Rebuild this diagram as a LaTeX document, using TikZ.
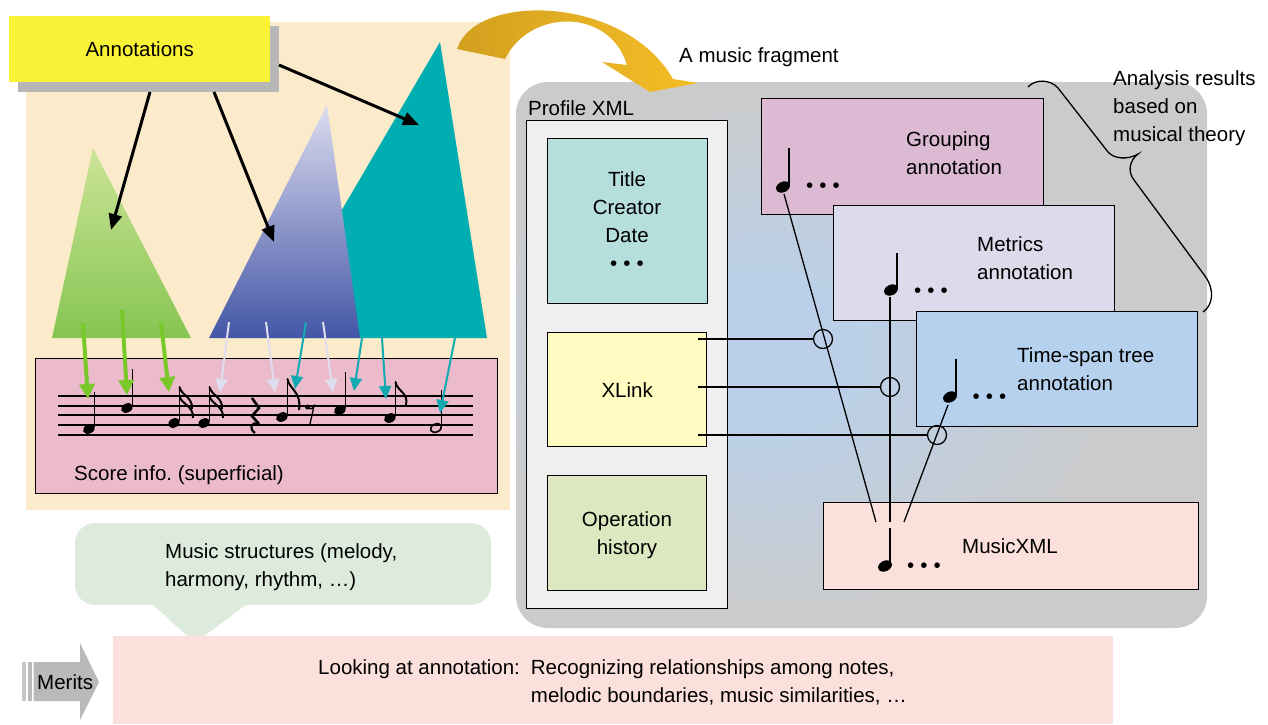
\documentclass[tikz,border=0pt]{standalone}
\usepackage{fontspec}
\setmainfont{Liberation Sans}
\usetikzlibrary{arrows.meta,shapes.geometric}
\definecolor{beige}{HTML}{FCEBCB}
\definecolor{annyellow}{HTML}{F9F237}
\definecolor{shadowgray}{HTML}{B7B7B7}
\definecolor{tealtri}{HTML}{00ADB1}
\definecolor{lavtop}{HTML}{DCDCEF}
\definecolor{bluebot}{HTML}{4356A6}
\definecolor{greentop}{HTML}{CBE497}
\definecolor{greenbot}{HTML}{86C552}
\definecolor{scorepink}{HTML}{ECBBCB}
\definecolor{greenarrow}{HTML}{78C82A}
\definecolor{lavarrow}{HTML}{DEDEF0}
\definecolor{tealarrow}{HTML}{13A9B1}
\definecolor{golddark}{HTML}{D2A01F}
\definecolor{goldlight}{HTML}{F5BE27}
\definecolor{bggray}{HTML}{CBCBCB}
\definecolor{bgblue}{HTML}{BBD0E8}
\definecolor{profwhite}{HTML}{EFEFEF}
\definecolor{titlec}{HTML}{B5DEDC}
\definecolor{xlinkc}{HTML}{FFFBC1}
\definecolor{opc}{HTML}{DDE8C1}
\definecolor{groupc}{HTML}{DCBAD3}
\definecolor{metricc}{HTML}{DCDBEB}
\definecolor{tsc}{HTML}{B6D1EE}
\definecolor{mxmlc}{HTML}{FCE0DC}
\definecolor{bubblec}{HTML}{DDEBDD}
\definecolor{meritpink}{HTML}{FCE0DC}
\definecolor{meritgray}{HTML}{B9B9B9}
\pgfdeclareradialshading{bgshade}{\pgfpoint{-9bp}{0bp}}{color(0bp)=(bgblue);color(7bp)=(bgblue);color(24bp)=(bggray);color(50bp)=(bggray)}
\newcommand\threedots{•\hspace{6pt}•\hspace{6pt}•}
\frenchspacing
\begin{document}
\frenchspacing
\begin{tikzpicture}[x=1pt,y=-1pt,
  txt/.style={inner sep=0pt, font=\fontsize{20.5}{28}\selectfont},
  box/.style={draw=black, line width=1.4pt, inner sep=0pt, anchor=north west},
  nhead/.style={ellipse, fill=black, inner sep=0pt, minimum width=12.5pt, minimum height=9pt, rotate=25},
  bighead/.style={ellipse, fill=black, inner sep=0pt, minimum width=14.5pt, minimum height=10.5pt, rotate=25},
  stem/.style={line width=1.8pt},
  staffline/.style={line width=1.8pt},
  blackarrow/.style={line width=3pt, -{Triangle[length=16pt,width=13pt]}},
  greenarr/.style={line width=4pt, greenarrow, -{Triangle[length=15pt,width=15pt]}},
  lavarr/.style={line width=2pt, lavarrow, -{Triangle[length=13pt,width=12pt]}},
  tealarr/.style={line width=2pt, tealarrow, -{Triangle[length=13pt,width=12pt]}},
  link/.style={line width=1.3pt},
  ring/.style={circle, draw, line width=1.3pt, minimum size=19pt, inner sep=0pt},
  dotrow/.style={inner sep=0pt, font=\fontsize{20.5}{28}\selectfont, anchor=base},
]
\useasboundingbox (0,0) rectangle (1268,724);

% ---------------- left panel ----------------
\fill[beige] (26,22) rectangle (510,510);

% right background panel
\shade[shading=bgshade, rounded corners=32pt] (516,82) rectangle (1207,628);

% curved gold arrow
\shade[left color=golddark, right color=goldlight] (457,49) .. controls (475,-8) and (625,-5) .. (673,79) -- (698,83) -- (650,92) -- (602,62) -- (627,65) .. controls (610,8) and (530,8) .. (505,59) -- cycle;
\node[txt, anchor=base west] (frag) at (679,62) {A music fragment};

% triangles
\fill[tealtri] (440,42) -- (487,338) -- (267,338) -- cycle;
\shade[top color=lavtop, bottom color=bluebot] (327,105) -- (360,338) -- (209,338) -- cycle;
\shade[top color=greentop, bottom color=greenbot] (93,148) -- (191,338) -- (52,338) -- cycle;

% annotations box
\fill[shadowgray] (18,26) rectangle (279,92);
\node[txt, fill=annyellow, minimum width=261pt, minimum height=66pt, anchor=north west] (ann) at (9,16) {Annotations};

\coordinate (a1s) at (150,92);  \coordinate (a1e) at (111,230);
\coordinate (a2s) at (214,92);  \coordinate (a2e) at (274,242);
\coordinate (a3s) at (279,65);  \coordinate (a3e) at (419,125);
\draw[blackarrow] (a1s) -- (a1e);
\draw[blackarrow] (a2s) -- (a2e);
\draw[blackarrow] (a3s) -- (a3e);

% score box
\node[box, fill=scorepink, minimum width=462pt, minimum height=135pt] (score) at (35,358) {};
\node[txt, anchor=base west] at (74,480) {Score info.\ (superficial)};
\foreach \y in {396,405.7,415.3,425,434.7} \draw[staffline] (58,\y) -- (473,\y);

% notes on staff
\node[nhead] (n1) at (89,429) {};   \draw[stem] (94.5,392) -- (94.5,427);
\node[nhead] (n2) at (127,408) {};  \draw[stem] (132.5,369) -- (132.5,406);
\node[nhead] (n3) at (174,423) {};  \draw[stem] (179.5,386) -- (179.5,421);
\draw[line width=2pt] (179.5,387) .. controls (181,395) and (193,397) .. (192,409);
\draw[line width=2pt] (179.5,396) .. controls (181,404) and (194,406) .. (193,418);
\node[nhead] (n4) at (204,423) {};  \draw[stem] (209.5,386) -- (209.5,421);
\draw[line width=2pt] (209.5,387) .. controls (211,395) and (223,397) .. (222,409);
\draw[line width=2pt] (209.5,396) .. controls (211,404) and (224,406) .. (223,418);
\draw[line width=2.6pt, line join=miter] (252,398) -- (259,408) -- (252,416) -- (259,424);
\draw[line width=2.2pt] (259,424) .. controls (250,421) and (249,429) .. (255,433);
\node[nhead] (n6) at (282,417) {};  \draw[stem] (287.5,378) -- (287.5,415);
\draw[line width=2pt] (287.5,379) .. controls (289,389) and (302,392) .. (299,410);
\fill (307.5,407) circle (2.5);
\draw[line width=1.3pt] (307.5,407) .. controls (310,410) and (312,409) .. (314,406) -- (310,424);
\node[nhead] (n8) at (340,410) {};  \draw[stem] (345.5,372) -- (345.5,408);
\node[nhead] (n9) at (390,418) {};  \draw[stem] (395.5,381) -- (395.5,416);
\draw[line width=2pt] (395.5,382) .. controls (397,391) and (409,393) .. (406,405);
\node[ellipse, draw, line width=1.6pt, inner sep=0pt, minimum width=11.5pt, minimum height=8pt, rotate=25] (n10) at (436,428) {};
\draw[stem] (441.5,390) -- (441.5,426);

% coloured arrows onto notes
\coordinate (g1s) at (83,323);  \coordinate (g1e) at (88,399);
\coordinate (g2s) at (122,310); \coordinate (g2e) at (127,395);
\coordinate (g3s) at (161,323); \coordinate (g3e) at (169,392);
\draw[greenarr] (g1s) -- (g1e);
\draw[greenarr] (g2s) -- (g2e);
\draw[greenarr] (g3s) -- (g3e);
\coordinate (l1s) at (229,322); \coordinate (l1e) at (220,392);
\coordinate (l2s) at (266,322); \coordinate (l2e) at (275,392);
\coordinate (l3s) at (323,322); \coordinate (l3e) at (333,392);
\draw[lavarr] (l1s) -- (l1e);
\draw[lavarr] (l2s) -- (l2e);
\draw[lavarr] (l3s) -- (l3e);
\coordinate (t1s) at (306,322); \coordinate (t1e) at (295,389);
\coordinate (t2s) at (362,338); \coordinate (t2e) at (354,391);
\coordinate (t3s) at (382,338); \coordinate (t3e) at (386,399);
\coordinate (t4s) at (455,338); \coordinate (t4e) at (440,413);
\draw[tealarr] (t1s) -- (t1e);
\draw[tealarr] (t2s) -- (t2e);
\draw[tealarr] (t3s) -- (t3e);
\draw[tealarr] (t4s) -- (t4e);

% ---------------- right panel ----------------
\node[txt, anchor=base west] at (528,115) {Profile XML};
\node[box, fill=profwhite, minimum width=201pt, minimum height=488pt] (profile) at (526,120) {};
\node[box, fill=titlec, minimum width=160pt, minimum height=165pt] (title) at (547,138) {};
\node[txt, anchor=base, align=center] at (627,242.5) {Title\\Creator\\Date};
\node[dotrow] at (627,270.2) {\threedots};
\node[box, fill=xlinkc, minimum width=159pt, minimum height=114pt, txt] (xlink) at (547,332) {XLink};
\node[box, fill=opc, minimum width=159pt, minimum height=115pt] (ophist) at (547,475) {};
\node[txt, anchor=base, align=center] at (627,554.4) {Operation\\history};

\node[box, fill=groupc, minimum width=282pt, minimum height=116pt] (group) at (761,98) {};
\node[txt, anchor=base west, align=left] at (906,174) {Grouping\\annotation};
\node[bighead] (gn) at (783,187) {}; \draw[stem] (789,148) -- (789,185);
\node[dotrow] at (823,192.2) {\threedots};

\node[box, fill=metricc, minimum width=281pt, minimum height=115pt] (metric) at (833,205) {};
\node[txt, anchor=base west, align=left] at (977,279.5) {Metrics\\annotation};
\node[bighead] (mn) at (891,290) {}; \draw[stem] (897,253) -- (897,288);
\node[dotrow] at (931,297.2) {\threedots};

\node[box, fill=tsc, minimum width=281pt, minimum height=115pt] (tspan) at (916,311) {};
\node[txt, anchor=base west, align=left] at (1017,390.5) {Time-span tree\\annotation};
\node[bighead] (tn) at (950,397) {}; \draw[stem] (956,359) -- (956,395);
\node[dotrow] at (989.5,403.2) {\threedots};

\node[box, fill=mxmlc, minimum width=375pt, minimum height=87pt] (mxml) at (823,502) {};
\node[txt, anchor=base west] at (962,553.5) {MusicXML};
\node[bighead] (xn) at (885,566) {}; \draw[stem] (890,528) -- (890,564);
\node[dotrow] at (924,572.2) {\threedots};

% links
\coordinate (gls) at (784,194); \coordinate (gle) at (876,522);
\coordinate (mls) at (890,297); \coordinate (mle) at (890,522);
\coordinate (tls) at (948,405); \coordinate (tle) at (904,522);
\draw[link] (gls) -- (gle);
\draw[link] (mls) -- (mle);
\draw[link] (tls) -- (tle);
\node[ring] (c1) at (823,339) {};
\node[ring] (c2) at (890,387) {};
\node[ring] (c3) at (937,435) {};
\coordinate (x1) at (698,339);
\coordinate (x2) at (698,387);
\coordinate (x3) at (698,435);
\draw[link] (x1) -- (c1.west);
\draw[link] (x2) -- (c2.west);
\draw[link] (x3) -- (c3.west);

% brace and analysis text
\draw[line width=1.3pt] (1028,87) .. controls (1035,79) and (1050,79) .. (1058,88) -- (1108,152) .. controls (1114,159) and (1128,160) .. (1138,154) .. controls (1130,160) and (1127,171) .. (1134,180) -- (1205,276) .. controls (1215,290) and (1213,305) .. (1203,312);
\node[txt, anchor=base west, align=left] at (1113,141) {Analysis results\\based on\\musical theory};

% ---------------- bottom ----------------
\fill[bubblec, rounded corners=20pt] (75,523) rectangle (491,605);
\fill[bubblec] (152,604) -- (195,643) -- (247,604) -- cycle;
\node[txt, anchor=base west, align=left] (bubble) at (165,586) {Music structures (melody,\\harmony, rhythm, …)};

\node[fill=meritpink, minimum width=1000pt, minimum height=88pt, anchor=north west, inner sep=0pt] (merits) at (113,636) {};
\node[txt, anchor=base west] at (318,674.5) {\begin{tabular}[t]{@{}l@{}l@{}}Looking at annotation:\hspace{11pt} & Recognizing relationships among notes,\\ & melodic boundaries, music similarities, …\end{tabular}};

\fill[meritgray!80] (22,662) rectangle (25.5,701);
\fill[meritgray] (27.5,662) rectangle (31.5,701);
\fill[meritgray] (33.5,662) -- (80,662) -- (80,643) -- (99,682) -- (80,720) -- (80,701) -- (33.5,701) -- cycle;
\node[txt, anchor=base west] (meritlbl) at (37,689.5) {Merits};
\end{tikzpicture}
\end{document}
